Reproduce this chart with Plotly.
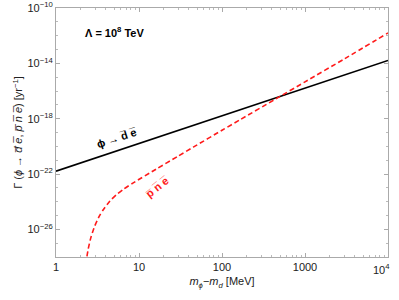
import plotly.graph_objects as go

# Black: phi -> dbar ebar
x_de = [1, 10, 100, 1000, 10000]
y_de = [1.6e-22, 1.6e-20, 1.6e-18, 1.6e-16, 1.6e-14]

# Red dashed: pbar nbar ebar
x_pne = [2.249, 2.301, 2.438, 2.630, 2.931, 3.311, 3.690, 4.467, 5.333, 6.607, 8.433,
         16.07, 29.17, 45.08, 100, 164.8, 436.5, 1000, 2999, 10000]
y_pne = [1e-32, 3.47e-29, 3.47e-28, 2.51e-27, 1.74e-26, 8.5e-26, 2.51e-25, 1.12e-24, 3.16e-24,
         8.5e-24, 2.19e-23, 2.24e-22, 1.86e-21, 8.7e-21, 1.45e-19, 8.3e-19, 2.51e-17, 4.57e-16,
         2.14e-14, 1.58e-12]

y_ticks = [1e-10, 1e-14, 1e-18, 1e-22, 1e-26]
y_ticktext = ["10<sup>−10</sup>", "10<sup>−14</sup>", "10<sup>−18</sup>", "10<sup>−22</sup>", "10<sup>−26</sup>"]
x_ticks = [1, 10, 100, 1000, 10000]
x_ticktext = ["1", "10", "100", "1000", ""]
x_last_label = "10<sup>4</sup>"

y_minor = [10.0 ** (-e) for e in range(10, 29)]
x_minor = [m * 10 ** d for d in range(0, 4) for m in range(2, 10)]

fig = go.Figure()
fig.add_trace(go.Scatter(x=x_de, y=y_de, mode="lines",
                         line=dict(color="black", width=1.6), showlegend=False))
fig.add_trace(go.Scatter(x=x_pne, y=y_pne, mode="lines",
                         line=dict(color="#ff1a1a", width=1.6, dash="5px,3px",
                                   shape="spline", smoothing=0.6), showlegend=False))

font = "Liberation Sans, Arial, sans-serif"
axis_common = dict(type="log", showline=True, linecolor="#aaaaaa", linewidth=1, mirror="ticks",
                   ticks="inside", ticklen=4, tickcolor="#aaaaaa", showgrid=False, zeroline=False,
                   automargin=False,
                   tickfont=dict(family=font, size=11, color="#222222"))

fig.update_xaxes(range=[0, 4], tickvals=x_ticks, ticktext=x_ticktext,
                 minor=dict(tickvals=x_minor, ticks="inside", ticklen=2, tickcolor="#bbbbbb"),
                 title=dict(text="<i>m</i><sub><i>ϕ</i></sub>−<i>m</i><sub><i>d</i></sub> [MeV]",
                            font=dict(family=font, size=11, color="#222222"), standoff=5),
                 **axis_common)
fig.update_yaxes(range=[-28, -10], tickvals=y_ticks, ticktext=y_ticktext,
                 minor=dict(tickvals=y_minor, ticks="inside", ticklen=2, tickcolor="#bbbbbb"),
                 title=dict(text="Γ (<i>ϕ</i> → <i>d̅</i> <i>e̅</i>, <i>p̅</i> <i>n̅</i> <i>e̅</i>) [yr<sup>−1</sup>]",
                            font=dict(family=font, size=11, color="#222222"), standoff=2),
                 **axis_common)

fig.add_annotation(x=4, xref="x", y=0, yref="paper", yanchor="top", xanchor="right", xshift=4, yshift=-3,
                   text=x_last_label, showarrow=False, font=dict(family=font, size=11, color="#222222"))
fig.add_annotation(xref="paper", yref="paper", x=0.08, y=0.905, xanchor="left", yanchor="middle",
                   text="<b>Λ = 10<sup>8</sup> TeV</b>", showarrow=False,
                   font=dict(family=font, size=11, color="black"))
fig.add_annotation(x=0.73, y=-19.42, text="<b>ϕ → d̅ e̅</b>", showarrow=False, textangle=-18,
                   font=dict(family=font, size=11, color="black"))
fig.add_annotation(x=1.22, y=-22.95, text="<b>p̅ n̅ e̅</b>", showarrow=False, textangle=-38,
                   font=dict(family=font, size=11, color="#ff1a1a"))

fig.update_layout(width=399, height=300, margin=dict(l=56, r=11, t=8, b=43),
                  plot_bgcolor="white", paper_bgcolor="white")
fig.write_html("out.html", config={"displayModeBar": False},
               post_script="document.body.style.margin='0';document.body.style.padding='0';")
